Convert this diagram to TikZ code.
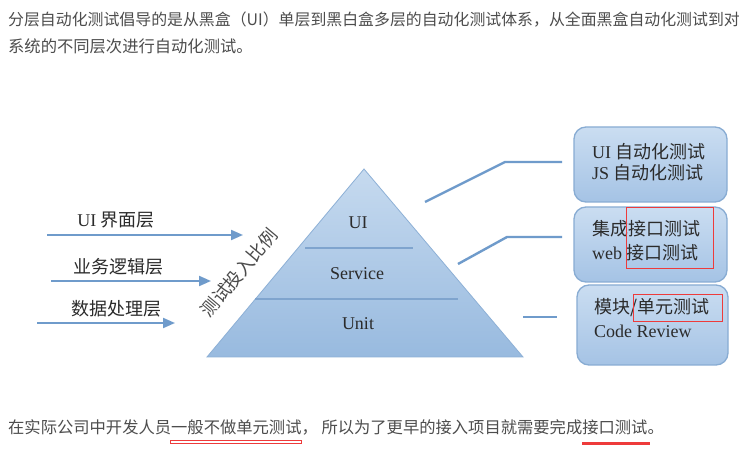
\documentclass[tikz,border=0pt]{standalone}
\usepackage{fontspec}
\setmainfont{Liberation Serif}
\newfontfamily\cjk{Noto Sans CJK SC}
\usetikzlibrary{arrows.meta}
\definecolor{para}{HTML}{4D4D4D}
\definecolor{txt}{HTML}{2B2B2B}
\definecolor{pyrTop}{HTML}{C6DAEF}
\definecolor{pyrBot}{HTML}{98BADF}
\definecolor{pyrEdge}{HTML}{8DB0D6}
\definecolor{divline}{HTML}{7FA4CE}
\definecolor{boxTop}{HTML}{CADDF1}
\definecolor{boxBot}{HTML}{A5C3E5}
\definecolor{boxEdge}{HTML}{88ACD3}
\definecolor{connclr}{HTML}{6F9BCB}
\definecolor{redmark}{HTML}{EE3B3B}
\tikzset{
  partext/.style={anchor=base west, inner sep=0, text=para, font=\cjk\fontsize{16.3}{20}\selectfont},
  dtext/.style={inner sep=0, text=txt, font=\fontsize{18}{22}\selectfont},
  boxnode/.style={draw=boxEdge, line width=1.3pt, rounded corners=12pt, top color=boxTop, bottom color=boxBot, inner sep=0},
  connline/.style={draw=connclr, line width=2.4pt},
  arrline/.style={draw=connclr, line width=2pt, -{Triangle[length=12pt,width=10pt]}},
  redbox/.style={draw=redmark, line width=1pt}
}
\begin{document}
\begin{tikzpicture}[x=1pt,y=-1pt]
\useasboundingbox (0,0) rectangle (756,470);
\fill[white] (0,0) rectangle (756,470);

% paragraph text
\node[partext, font=\cjk\fontsize{15.9}{20}\selectfont] (p1) at (8,26) {分层自动化测试倡导的是从黑盒（UI）单层到黑白盒多层的自动化测试体系，从全面黑盒自动化测试到对};
\node[partext] (p2) at (8,53) {系统的不同层次进行自动化测试。};
\node[partext] (p3) at (8,434) {在实际公司中开发人员一般不做单元测试， 所以为了更早的接入项目就需要完成接口测试。};

% underlines
\draw[draw=redmark, line width=0.8pt] (170,440) rectangle (301,443.5);
\draw[draw=redmark, line width=2.2pt] (582,443.5) -- (650,443.5);

% pyramid
\coordinate (apex) at (364,169);
\coordinate (bl) at (207,357);
\coordinate (br) at (523,357);
\shade[top color=pyrTop, bottom color=pyrBot, draw=pyrEdge, line width=0.8pt] (apex) -- (br) -- (bl) -- cycle;
\coordinate (d1a) at (305,248);
\coordinate (d1b) at (413,248);
\coordinate (d2a) at (255,299);
\coordinate (d2b) at (458,299);
\draw[divline, line width=1.5pt] (d1a) -- (d1b);
\draw[divline, line width=1.5pt] (d2a) -- (d2b);
\node[dtext] (lUI) at (358,223) {UI};
\node[dtext] (lSv) at (357,274) {Service};
\node[dtext] (lUn) at (358,324) {Unit};

% rotated label
\node[dtext, font=\cjk\fontsize{18}{22}\selectfont, text=txt!85, rotate=50] (ratio) at (239,273) {测试投入比例};

% left labels and arrows
\node[dtext] (L1) at (116,220) {UI {\cjk 界面层}};
\node[dtext, font=\cjk\fontsize{18}{22}\selectfont] (L2) at (118,267) {业务逻辑层};
\node[dtext, font=\cjk\fontsize{18}{22}\selectfont] (L3) at (116,309) {数据处理层};
\coordinate (a1s) at (47,235);  \coordinate (a1e) at (243,235);
\coordinate (a2s) at (51,281);  \coordinate (a2e) at (211,281);
\coordinate (a3s) at (37,323);  \coordinate (a3e) at (175,323);
\draw[arrline] (a1s) -- (a1e);
\draw[arrline] (a2s) -- (a2e);
\draw[arrline] (a3s) -- (a3e);

% boxes
\node[boxnode, minimum width=153pt, minimum height=75pt] (B1) at (650.5,164.5) {};
\node[boxnode, minimum width=153pt, minimum height=75pt] (B2) at (650.5,244.5) {};
\node[boxnode, minimum width=151pt, minimum height=80pt] (B3) at (652.5,325) {};

\node[dtext, anchor=west] (t1a) at (592,152) {UI {\cjk 自动化测试}};
\node[dtext, anchor=west] (t1b) at (592,173) {JS {\cjk 自动化测试}};
\node[dtext, anchor=west] (t2a) at (592,229) {\cjk 集成接口测试};
\node[dtext, anchor=west] (t2b) at (592,253) {web {\cjk 接口测试}};
\node[dtext, anchor=west] (t3a) at (594,308) {\cjk 模块/单元测试};
\node[dtext, anchor=west] (t3b) at (594,331) {Code Review};

% red marks
\draw[redbox] (626,208) rectangle (713,269);
\draw[redbox] (633,295) rectangle (722,322);

% connectors
\coordinate (c1a) at (425,202); \coordinate (c1b) at (505,162); \coordinate (c1c) at (562,162);
\coordinate (c2a) at (458,264); \coordinate (c2b) at (507,237); \coordinate (c2c) at (562,237);
\coordinate (c3a) at (523,317); \coordinate (c3c) at (557,317);
\draw[connline] (c1a) -- (c1b) -- (c1c);
\draw[connline] (c2a) -- (c2b) -- (c2c);
\draw[connline] (c3a) -- (c3c);
\end{tikzpicture}
\end{document}
